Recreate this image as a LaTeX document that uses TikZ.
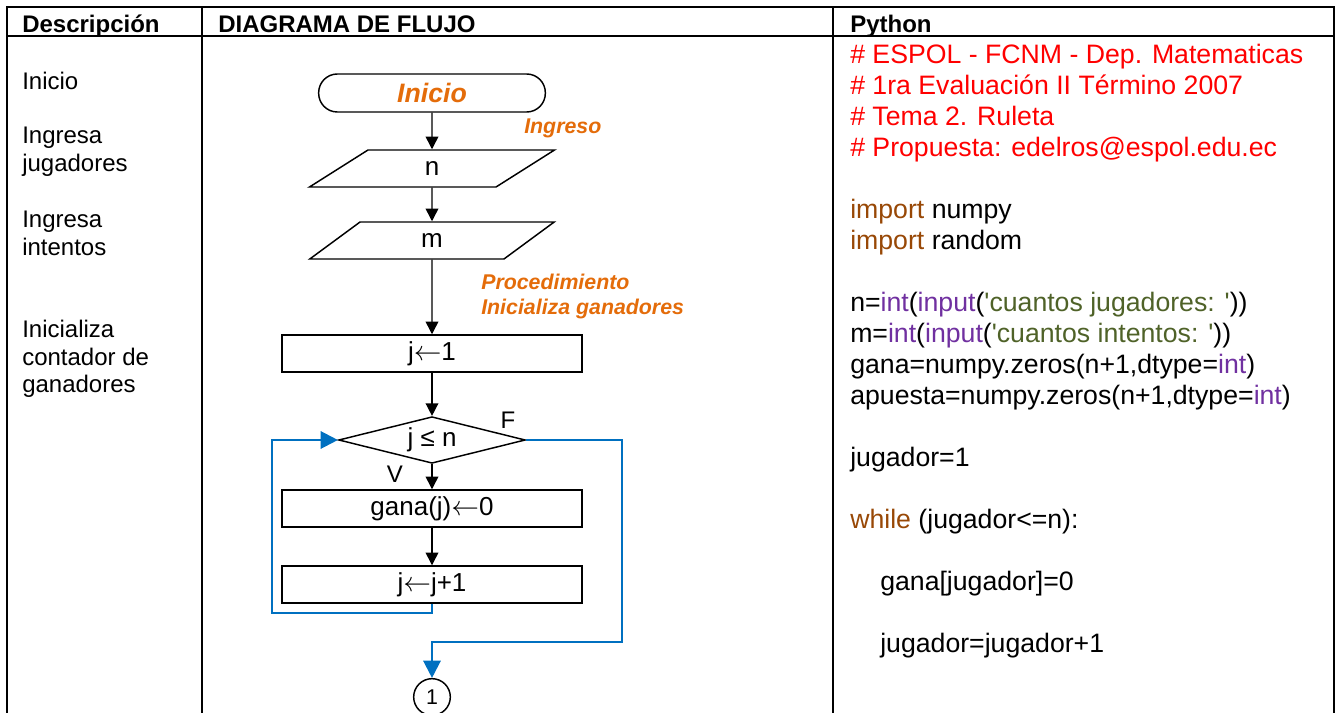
\documentclass[tikz,border=0pt]{standalone}
\usepackage{fontspec}
\setmainfont{Liberation Sans}[Ligatures=TeXOff]
\usepackage{xcolor}
\usetikzlibrary{arrows.meta,positioning,shapes.geometric}

\definecolor{ttlorange}{HTML}{E46C0A}
\definecolor{loopblue}{HTML}{0070C0}
\definecolor{cmtred}{HTML}{FF0000}
\definecolor{kwbrown}{HTML}{984806}
\definecolor{fnpurple}{HTML}{7030A0}
\definecolor{strgreen}{HTML}{4F6228}

\newcommand{\pykw}[1]{\textcolor{kwbrown}{#1}}
\newcommand{\pyfn}[1]{\textcolor{fnpurple}{#1}}
\newcommand{\pystr}[1]{\textcolor{strgreen}{#1}}
\newcommand{\asig}{$\leftarrow$}

\begin{document}
\begin{tikzpicture}[
    x=0.75pt, y=-0.75pt,
    grid/.style={line width=1.5pt},
    head/.style={anchor=north west, inner sep=0pt, font=\fontsize{18}{20.7}\selectfont\bfseries},
    desc/.style={anchor=north west, inner sep=0pt, align=left, font=\fontsize{18}{20.7}\selectfont},
    term/.style={draw, line width=1.1pt, rounded corners=14pt, minimum width=170pt, minimum height=28.5pt,
      font=\fontsize{20}{24}\selectfont\bfseries\itshape, text=ttlorange},
    io/.style={draw, line width=1.1pt, trapezium, trapezium left angle=65, trapezium right angle=115,
      trapezium stretches=true, minimum width=184pt, minimum height=27.75pt, font=\fontsize{19.5}{22}\selectfont},
    proc/.style={draw, line width=1.1pt, minimum width=225pt, minimum height=27.75pt, font=\fontsize{19.5}{22}\selectfont},
    cond/.style={draw, line width=1.1pt, diamond, shape aspect=4, minimum width=140pt, minimum height=35pt,
      inner sep=0pt, font=\fontsize{19.5}{22}\selectfont},
    conn/.style={draw, line width=1.1pt, circle, minimum size=27.5pt, inner sep=0pt, font=\fontsize{16}{18}\selectfont},
    tag/.style={anchor=west, inner sep=0pt, align=left, text=ttlorange,
      font=\fontsize{16}{18.75}\selectfont\bfseries\itshape},
    lbl/.style={inner sep=0pt, font=\fontsize{18}{20.7}\selectfont},
    arr/.style={-{Triangle[length=9.5pt, width=9.5pt]}, line width=1.1pt},
    back/.style={-{Triangle[length=13pt, width=13pt]}, line width=1.7pt, draw=loopblue}
  ]
  \useasboundingbox (0,0) rectangle (1336,713);

  % table
  \draw[grid] (7,720) -- (7,7) -- (1334,7) -- (1334,720);
  \draw[grid] (7,36) -- (1334,36);
  \draw[grid] (202,7) -- (202,720);
  \draw[grid] (833,7) -- (833,720);
  \node[head] (hdesc) at (22,15) {Descripción};
  \node[head] (hflow) at (218,15) {DIAGRAMA DE FLUJO};
  \node[head] (hpy) at (850,15) {Python};

  % descriptions
  \node[desc] (d1) at (22,72) {Inicio};
  \node[desc] (d2) at (22,127) {Ingresa\\jugadores};
  \node[desc] (d3) at (22,211) {Ingresa\\intentos};
  \node[desc] (d4) at (22,320) {Inicializa\\contador de\\ganadores};

  % flowchart
  \node[term] (ini) at (432,93) {Inicio};
  \node[io] (n) at (432,168.5) {n};
  \node[io] (m) at (432,240.5) {m};
  \node[proc] (j1) at (432,353.5) {j\asig1};
  \node[cond] (test) at (432,440) {j ≤ n};
  \node[proc] (gana) at (432,508.5) {gana(j)\asig0};
  \node[proc] (inc) at (432,584.5) {j\asig j+1};
  \node[conn] (c1) at (432,697) {1};

  \node[tag] (ting) at (524,128) {Ingreso};
  \node[tag] (tproc) at (481,296) {Procedimiento\\Inicializa ganadores};
  \node[lbl] (lf) at (508,420) {F};
  \node[lbl] (lv) at (395,474) {V};

  \draw[arr] (ini) -- (n);
  \draw[arr] (n) -- (m);
  \draw[arr] (m) -- (j1);
  \draw[arr] (j1) -- (test);
  \draw[arr] (test) -- (gana);
  \draw[arr] (gana) -- (inc);
  \draw[back] (inc.south) -- ++(0,9) -| ([xshift=-49.5pt]test.west) -- (test.west);
  \draw[back] (test.east) -- ++(96,0) -- ++(0,202) -| (c1.north);

  % python
  \node[anchor=north west, inner sep=0pt, align=left, font=\fontsize{20}{23.25}\selectfont] (code) at (850,44) {%
    \textcolor{cmtred}{\# ESPOL - FCNM - Dep. Matematicas}\\
    \textcolor{cmtred}{\# 1ra Evaluación II Término 2007}\\
    \textcolor{cmtred}{\# Tema 2. Ruleta}\\
    \textcolor{cmtred}{\# Propuesta: edelros@espol.edu.ec}\\[23.25pt]
    \pykw{import} numpy\\
    \pykw{import} random\\[23.25pt]
    n=\pyfn{int}(\pyfn{input}(\pystr{'cuantos jugadores: '}))\\
    m=\pyfn{int}(\pyfn{input}(\pystr{'cuantos intentos: '}))\\
    gana=numpy.zeros(n+1,dtype=\pyfn{int})\\
    apuesta=numpy.zeros(n+1,dtype=\pyfn{int})\\[23.25pt]
    jugador=1\\[23.25pt]
    \pykw{while} (jugador<=n):\\[23.25pt]
    \hspace*{22.5pt}gana[jugador]=0\\[23.25pt]
    \hspace*{22.5pt}jugador=jugador+1};
\end{tikzpicture}
\end{document}
